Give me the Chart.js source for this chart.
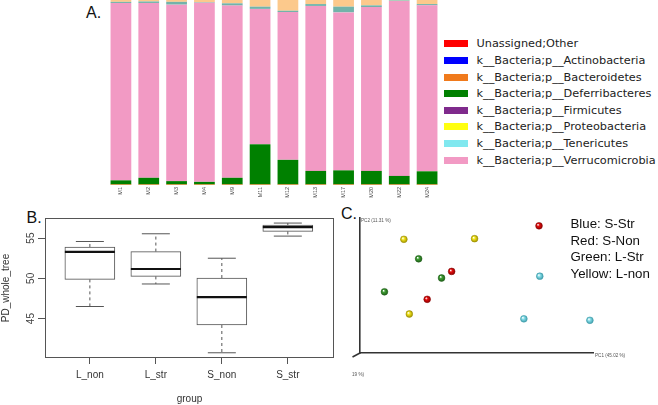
<!DOCTYPE html>
<html>
<head>
<meta charset="utf-8">
<script src="https://cdn.jsdelivr.net/npm/chart.js@4.4.0/dist/chart.umd.min.js"></script>
<style>
  body { margin: 0; width: 658px; height: 405px; background: #fff; position: relative; overflow: hidden;
         font-family: "Liberation Sans", Arial, sans-serif; }
  .pane { position: absolute; }
  .tag { position: absolute; font-size: 16px; line-height: 16px; color: #111; }
  #legendA { position: absolute; left: 444px; top: 35.7px; font-family: "DejaVu Sans", sans-serif;
             font-size: 11.3px; color: #222; }
  #legendA .row { height: 16.6px; display: flex; align-items: center; white-space: nowrap; }
  #legendA .sw { width: 24px; height: 7px; margin-right: 8.5px; flex: none; }
  #legendC { position: absolute; left: 570.5px; top: 215.8px; font-size: 13.3px; line-height: 16.8px; color: #111; }
</style>
</head>
<body>

<div class="tag" style="left:86px;top:4.7px">A.</div>
<div class="tag" style="left:26.5px;top:209.5px">B.</div>
<div class="tag" style="left:341px;top:206px">C.</div>

<div class="pane" style="left:107px;top:0;width:334px;height:200px"><canvas id="chartA"></canvas></div>
<div id="legendA"></div>

<div class="pane" style="left:0;top:195px;width:340px;height:210px"><canvas id="chartB"></canvas></div>

<div class="pane" style="left:330px;top:195px;width:328px;height:210px"><canvas id="chartC"></canvas></div>
<div id="legendC"></div>

<script>
// ─── A. relative abundance per sample (% of reads) ──────────────────────────
const sampleIds       = ['M1', 'M2', 'M3', 'M4', 'M9', 'M11', 'M12', 'M13', 'M17', 'M20', 'M22', 'M24'];
const unassigned      = [0, 0, 0, 0, 0, 0, 0, 0, 0, 0, 0, 0];
const actinobacteria  = [0, 0, 0, 0, 0, 0, 0, 0, 0, 0, 0, 0];
const bacteroidetes   = [0.3, 0.3, 0.3, 0.3, 0.3, 0.3, 0.3, 0.3, 0.3, 0.3, 0.3, 0.3];
const deferribacteres = [2.2, 3.6, 1.8, 1.4, 3.6, 21.7, 13.3, 7.3, 7.6, 7.3, 4.6, 7.1];
const firmicutes      = [0, 0, 0, 0, 0, 0, 0, 0, 0, 0, 0, 0];
const proteobacteria  = [0, 0, 0, 0, 0, 0, 0, 0, 0, 0, 0, 0];
const tenericutes     = [0, 0, 0, 0, 0, 0, 0, 0, 0, 0, 0, 0];
const verrucomicrobia = [95.9, 94.5, 95.4, 96.8, 93.1, 73.2, 79.9, 89.2, 85.4, 88.6, 94.6, 89.7];
// thin bands on top of the bars that have no entry in the visible legend
const topTeal         = [0.6, 0.8, 1.5, 0.3, 1.2, 1.2, 0.7, 1.0, 3.1, 0.9, 0.3, 0.7];
const topPeach        = [1.0, 0.8, 1.0, 1.2, 1.8, 3.6, 5.8, 2.2, 3.6, 2.9, 0.2, 2.2];

const legendNames  = ['Unassigned;Other', 'k__Bacteria;p__Actinobacteria', 'k__Bacteria;p__Bacteroidetes',
                      'k__Bacteria;p__Deferribacteres', 'k__Bacteria;p__Firmicutes', 'k__Bacteria;p__Proteobacteria',
                      'k__Bacteria;p__Tenericutes', 'k__Bacteria;p__Verrucomicrobia'];
const legendColors = ['#ff0000', '#0000ff', '#f07a1c', '#008000', '#7f2a8c', '#ffff10', '#80e8ef', '#f29ac4'];

// ─── B. alpha diversity boxplot ─────────────────────────────────────────────
const groups      = ['L_non', 'L_str', 'S_non', 'S_str'];
const groupPos    = [1, 2, 3, 4];
const whiskerLow  = [46.5, 49.3, 40.75, 55.25];
const q1          = [49.87, 50.24, 44.2, 55.83];
const median      = [53.29, 51.16, 47.66, 56.37];
const q3          = [53.9, 53.33, 50.04, 56.62];
const whiskerHigh = [54.58, 55.54, 52.5, 56.87];
const yTicksB     = [45, 50, 55];

// ─── C. PCoA (PC1 vs PC2) ───────────────────────────────────────────────────
const pcGroups  = ['S-Str', 'S-Non', 'L-Str', 'L-non'];
const pcNames   = ['Blue', 'Red', 'Green', 'Yellow'];
const pc1SStr   = [0.263, 0.222, 0.392];
const pc2SStr   = [0.056, -0.086, -0.091];
const pc1SNon   = [0.261, 0.036, -0.027];
const pc2SNon   = [0.224, 0.072, -0.021];
const pc1LStr   = [-0.049, 0.010, -0.137];
const pc2LStr   = [0.114, 0.050, 0.004];
const pc1LNon   = [-0.087, 0.095, -0.073];
const pc2LNon   = [0.179, 0.181, -0.070];

Chart.defaults.animation = false;
Chart.defaults.font.family = '"Liberation Sans", Arial, sans-serif';
Chart.defaults.plugins.legend.display = false;
Chart.defaults.plugins.tooltip.enabled = false;

// ─── Panel A ────────────────────────────────────────────────────────────────
const stackA = [
  { data: unassigned,      color: legendColors[0] },
  { data: actinobacteria,  color: legendColors[1] },
  { data: bacteroidetes,   color: legendColors[2] },
  { data: deferribacteres, color: legendColors[3] },
  { data: firmicutes,      color: legendColors[4] },
  { data: proteobacteria,  color: legendColors[5] },
  { data: tenericutes,     color: legendColors[6] },
  { data: verrucomicrobia, color: legendColors[7] },
  { data: topTeal,         color: '#72b3aa' },
  { data: topPeach,        color: '#fcc98c' },
];

new Chart(document.getElementById('chartA'), {
  type: 'bar',
  data: {
    labels: sampleIds,
    datasets: stackA.map(s => ({
      data: s.data, backgroundColor: s.color, borderWidth: 0,
      barPercentage: 0.745, categoryPercentage: 1,
    })),
  },
  options: {
    responsive: true, maintainAspectRatio: false,
    layout: { padding: 0 },
    scales: {
      x: {
        stacked: true,
        grid: { display: false, drawTicks: false }, border: { display: false },
        ticks: { font: { size: 5.5 }, color: '#444', minRotation: 90, maxRotation: 90, padding: 2, autoSkip: false },
        afterFit: s => { s.height = 15; },
      },
      y: { stacked: true, display: false, min: 0, max: 100 },
    },
  },
});

document.getElementById('legendA').innerHTML = legendNames.map((n, i) =>
  `<div class="row"><span class="sw" style="background:${legendColors[i]}"></span>${n}</div>`).join('');

// ─── Panel B ────────────────────────────────────────────────────────────────
const boxExtras = {
  id: 'boxExtras',
  afterDatasetsDraw(chart) {
    const { ctx, chartArea: a, scales: { x, y } } = chart;
    ctx.save();
    groupPos.forEach((g, i) => {
      const cx = x.getPixelForValue(g);
      const hw = 25, cap = 14;
      ctx.strokeStyle = '#555';
      ctx.lineWidth = 1;
      // dashed whiskers
      ctx.setLineDash([3, 3]);
      ctx.beginPath();
      ctx.moveTo(cx, y.getPixelForValue(q3[i]));
      ctx.lineTo(cx, y.getPixelForValue(whiskerHigh[i]));
      ctx.moveTo(cx, y.getPixelForValue(q1[i]));
      ctx.lineTo(cx, y.getPixelForValue(whiskerLow[i]));
      ctx.stroke();
      // whisker caps
      ctx.setLineDash([]);
      ctx.beginPath();
      ctx.moveTo(cx - cap, y.getPixelForValue(whiskerHigh[i]));
      ctx.lineTo(cx + cap, y.getPixelForValue(whiskerHigh[i]));
      ctx.moveTo(cx - cap, y.getPixelForValue(whiskerLow[i]));
      ctx.lineTo(cx + cap, y.getPixelForValue(whiskerLow[i]));
      ctx.stroke();
      // median
      ctx.strokeStyle = '#111';
      ctx.lineWidth = 2.2;
      ctx.beginPath();
      ctx.moveTo(cx - hw, y.getPixelForValue(median[i]));
      ctx.lineTo(cx + hw, y.getPixelForValue(median[i]));
      ctx.stroke();
    });
    // frame
    ctx.strokeStyle = '#555';
    ctx.lineWidth = 1;
    ctx.strokeRect(a.left + 0.5, a.top + 0.5, a.right - a.left - 1, a.bottom - a.top - 1);
    // rotated y tick labels (R style)
    ctx.fillStyle = '#444';
    ctx.font = '10px "Liberation Sans", Arial, sans-serif';
    ctx.textAlign = 'center';
    ctx.textBaseline = 'middle';
    yTicksB.forEach(v => {
      ctx.save();
      ctx.translate(31, y.getPixelForValue(v));
      ctx.rotate(-Math.PI / 2);
      ctx.fillText(String(v), 0, 0);
      ctx.restore();
    });
    ctx.restore();
  },
};

new Chart(document.getElementById('chartB'), {
  type: 'bar',
  data: {
    datasets: [{
      data: groupPos.map((g, i) => ({ x: g, y: [q1[i], q3[i]] })),
      backgroundColor: '#fff', borderColor: '#555', borderWidth: 1, borderSkipped: false,
      barThickness: 50,
    }],
  },
  options: {
    responsive: true, maintainAspectRatio: false,
    layout: { padding: { top: 23, right: 6, left: 0, bottom: 0 } },
    scales: {
      x: {
        type: 'linear', min: 0.32, max: 4.70, offset: false,
        grid: { drawOnChartArea: false, drawTicks: true, tickLength: 6, color: '#555', offset: false },
        border: { display: false },
        afterBuildTicks: s => { s.ticks = groupPos.map(v => ({ value: v })); },
        ticks: { callback: (v, i) => groups[i], font: { size: 10 }, color: '#333', padding: 5 },
        title: { display: true, text: 'group', font: { size: 10 }, color: '#333', padding: { top: 0, bottom: 0 } },
        afterFit: s => { s.height = 47; },
      },
      y: {
        min: 40.1, max: 57.5,
        grid: { drawOnChartArea: false, drawTicks: true, tickLength: 7, color: '#555' },
        border: { display: false },
        afterBuildTicks: s => { s.ticks = yTicksB.map(v => ({ value: v })); },
        ticks: { display: false },
        title: { display: true, text: 'PD_whole_tree', font: { size: 10 }, color: '#333', padding: { top: 0, bottom: 0 } },
        afterFit: s => { s.width = 45; },
      },
    },
  },
  plugins: [boxExtras],
});

// ─── Panel C ────────────────────────────────────────────────────────────────
function sphere(base, dark) {
  return c => {
    const ch = c.chart;
    if (c.type !== 'data' || !c.parsed || !ch.scales.x || !ch.scales.y) return base;
    const px = ch.scales.x.getPixelForValue(c.parsed.x);
    const py = ch.scales.y.getPixelForValue(c.parsed.y);
    if (!Number.isFinite(px) || !Number.isFinite(py)) return base;
    const g = ch.ctx.createRadialGradient(px - 1.1, py - 1.2, 0.2, px, py, 3.6);
    g.addColorStop(0, '#ffffff');
    g.addColorStop(0.35, base);
    g.addColorStop(1, dark);
    return g;
  };
}

const pcaAxes = {
  id: 'pcaAxes',
  afterDraw(chart) {
    const { ctx, chartArea: a } = chart;
    ctx.save();
    ctx.strokeStyle = '#333';
    ctx.lineWidth = 1.5;
    ctx.beginPath();
    ctx.moveTo(a.left, a.bottom);
    ctx.lineTo(a.left - 7.5, a.bottom + 4);
    ctx.stroke();
    ctx.fillStyle = '#555';
    ctx.font = '4.6px "Liberation Sans", Arial, sans-serif';
    ctx.textBaseline = 'middle';
    ctx.fillText('PC2 (11.31 %)', a.left + 1, a.top + 3);
    ctx.fillText('PC1 (45.02 %)', a.right + 2, a.bottom + 3);
    ctx.fillText('19 %)', a.left - 8, a.bottom + 22);
    ctx.restore();
  },
};

const pcSeries = [
  { xs: pc1SStr, ys: pc2SStr, base: '#86dde8', dark: '#3b9aa8' },
  { xs: pc1SNon, ys: pc2SNon, base: '#e30d0d', dark: '#8a0000' },
  { xs: pc1LStr, ys: pc2LStr, base: '#3f9e34', dark: '#1d5c16' },
  { xs: pc1LNon, ys: pc2LNon, base: '#f2e41c', dark: '#9c8f00' },
];

new Chart(document.getElementById('chartC'), {
  type: 'scatter',
  data: {
    datasets: pcSeries.map((s, k) => ({
      label: pcGroups[k],
      data: s.xs.map((v, i) => ({ x: v, y: s.ys[i] })),
      pointRadius: 3.4,
      backgroundColor: sphere(s.base, s.dark),
      borderColor: s.dark, borderWidth: 0.5,
      clip: false,
    })),
  },
  options: {
    responsive: true, maintainAspectRatio: false,
    layout: { padding: { left: 30, right: 65, top: 23, bottom: 52 } },
    scales: {
      x: {
        min: -0.2, max: 0.4,
        grid: { display: false }, ticks: { display: false },
        border: { color: '#333', width: 1.6 },
        afterFit: s => { s.height = 0; },
      },
      y: {
        min: -0.2, max: 0.25,
        grid: { display: false }, ticks: { display: false },
        border: { color: '#333', width: 1.6 },
        afterFit: s => { s.width = 0; },
      },
    },
  },
  plugins: [pcaAxes],
});

document.getElementById('legendC').innerHTML =
  pcGroups.map((g, i) => `<div>${pcNames[i]}: ${g}</div>`).join('');
</script>
</body>
</html>
